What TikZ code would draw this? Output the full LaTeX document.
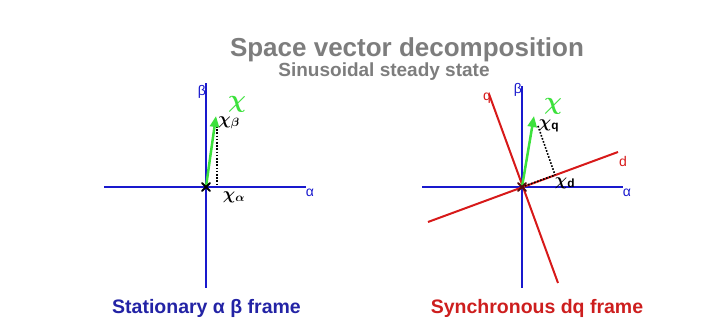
\documentclass[tikz,border=0pt]{standalone}
\usepackage{fontspec}
\setmainfont{Liberation Sans}
\usepackage{bm}
\usetikzlibrary{arrows.meta}
\definecolor{axblue}{RGB}{25,25,205}
\definecolor{axred}{RGB}{215,25,25}
\definecolor{vgreen}{RGB}{60,225,60}
\definecolor{titlegray}{RGB}{125,125,125}
\definecolor{lblblue}{RGB}{35,35,165}
\definecolor{lblred}{RGB}{205,30,30}
\begin{document}
\begin{tikzpicture}[x=1pt,y=-1pt,
  axis/.style={draw=axblue,line width=2pt},
  raxis/.style={draw=axred,line width=2pt},
  vec/.style={draw=vgreen,fill=vgreen,line width=2.5pt,-{Triangle[length=11pt,width=9pt]}},
  proj/.style={draw=black,line width=1.6pt,dash pattern=on 1.6pt off 1.6pt},
  axlbl/.style={inner sep=0pt,font=\fontsize{14}{14}\selectfont},
  chilbl/.style={inner sep=0pt,text=vgreen,font=\fontsize{28}{28}\selectfont},
  complbl/.style={inner sep=0pt,font=\fontsize{17}{17}\selectfont},
  caption/.style={inner sep=0pt,anchor=base,font=\fontsize{19.5}{20}\selectfont\bfseries},
  origmark/.style={line width=1.8pt,line cap=round}
]
\useasboundingbox (0,0) rectangle (702,328);

% titles
\node[inner sep=0pt,anchor=base,text=titlegray,font=\fontsize{26}{26}\selectfont\bfseries] (title) at (407,57) {Space vector decomposition};
\node[inner sep=0pt,anchor=base,text=titlegray,font=\fontsize{19}{19}\selectfont\bfseries] (subtitle) at (384,77) {Sinusoidal steady state};

% ---------- left: stationary frame ----------
\coordinate (O1) at (206,187);
\coordinate (L1) at (104,187);
\coordinate (R1) at (306,187);
\coordinate (T1) at (206,83);
\coordinate (B1) at (206,288);
\draw[axis] (L1) -- (R1);
\draw[axis] (B1) -- (T1);
\node[axlbl,text=axblue] (alpha1) at (310,193) {α};
\node[axlbl,text=axblue] (beta1) at (202,92) {β};
\coordinate (V1) at (216,116);
\coordinate (P1a) at (217,186);
\coordinate (P1b) at (217,126);
\draw[proj] (P1b) -- (P1a);
\draw[vec] (O1) -- (V1);
\draw[origmark,draw=black] ([shift={(-4,-4)}]O1) -- ([shift={(4,4)}]O1) ([shift={(-4,4)}]O1) -- ([shift={(4,-4)}]O1);
\node[chilbl] (chi1) at (237,104) {$\bm{\chi}$};
\node[complbl] (chib) at (229,123) {$\bm{\chi}_{\bm\beta}$};
\node[complbl] (chia) at (234,197) {$\bm{\chi}_{\bm\alpha}$};
\node[caption,text=lblblue] (cap1) at (206.5,314) {Stationary α β frame};

% ---------- right: synchronous frame ----------
\coordinate (O2) at (522,187);
\coordinate (L2) at (422,187);
\coordinate (R2) at (623,187);
\coordinate (T2) at (522,86);
\coordinate (B2) at (522,288);
\coordinate (Dl) at (428,222);
\coordinate (Dr) at (618,152);
\coordinate (Qt) at (489,94);
\coordinate (Qb) at (558,283);
\draw[axis] (L2) -- (R2);
\draw[axis] (B2) -- (T2);
\draw[raxis] (Dl) -- (Dr);
\draw[raxis] (Qb) -- (Qt);
\node[axlbl,text=axblue] (alpha2) at (627,193) {α};
\node[axlbl,text=axblue] (beta2) at (518,90) {β};
\node[axlbl,text=axred] (dlbl) at (623,161) {d};
\node[axlbl,text=axred] (qlbl) at (487,98) {q};
\coordinate (V2) at (534,116);
\coordinate (P2) at (555,175);
\coordinate (P2t) at (538,126);
\draw[proj] (P2t) -- (P2);
\draw[proj] (O2) -- (P2);
\draw[vec] (O2) -- (V2);
\draw[origmark,draw=black!60!axred] ([shift={(-4,-4)}]O2) -- ([shift={(4,4)}]O2) ([shift={(-4,4)}]O2) -- ([shift={(4,-4)}]O2);
\node[chilbl] (chi2) at (553,106) {$\bm{\chi}$};
\node[complbl] (chiq) at (549,126) {$\bm{\chi}_{\mathbf q}$};
\node[complbl] (chid) at (565,183) {$\bm{\chi}_{\mathbf d}$};
\node[caption,text=lblred] (cap2) at (537,314) {Synchronous dq frame};
\end{tikzpicture}
\end{document}
